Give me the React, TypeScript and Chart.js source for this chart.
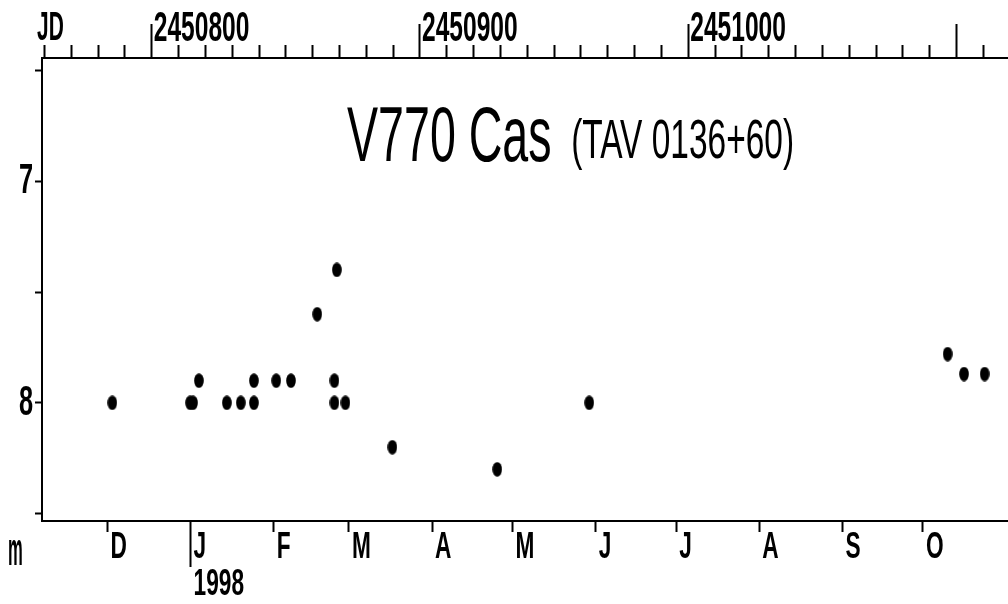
import React, { useEffect, useRef } from 'react';
import { Chart, LinearScale, registerables } from 'chart.js';

// ---- data ----
const jdValues = [
  2450785.3, 2450814.3, 2450815.4, 2450817.6, 2450828.0, 2450833.2, 2450838.1,
  2450838.1, 2450846.4, 2450851.9, 2450861.7, 2450869.0, 2450868.1, 2450868.1,
  2450872.2, 2450889.7, 2450928.8, 2450963.1, 2451096.7, 2451102.8, 2451110.5,
];
const magValues = [
  8.0, 8.0, 8.0, 7.9, 8.0, 8.0, 8.0,
  7.9, 7.9, 7.9, 7.6, 7.4, 7.9, 8.0,
  8.0, 8.2, 8.3, 8.0, 7.78, 7.87, 7.87,
];

// month starts (JD at 0h UT) for the bottom axis
const monthStartJD = [
  2450783.5, 2450814.5, 2450845.5, 2450873.5, 2450904.5, 2450934.5,
  2450965.5, 2450995.5, 2451026.5, 2451057.5, 2451087.5,
];
const monthLabels = ['D', 'J', 'F', 'M', 'A', 'M', 'J', 'J', 'A', 'S', 'O'];
const yearLabel = '1998';
const yearIndex = 1;

// top JD axis
const jdMin = 2450759.1;
const jdMax = 2451119.2;
const jdFirstMinor = 2450760;
const jdMinorStep = 10;
const jdMajorTicks = [2450800, 2450900, 2451000, 2451100];
const jdLabelledTicks = [2450800, 2450900, 2451000];

// magnitude axis
const magMin = 6.444;
const magMax = 8.533;
const magTicks = [6.5, 7, 7.5, 8, 8.5];
const magLabelledTicks = [7, 8];

const titleMain = 'V770 Cas';
const titleSub = '(TAV 0136+60)';
const jdAxisLabel = 'JD';
const magAxisLabel = 'm';

// horizontal compression of tick label glyphs, per axis (narrow bitmap-like font)
const labelStretch: Record<string, number> = { xTop: 0.585, x: 0.63, y: 0.59 };

const tickFamily = "'Liberation Sans', Arimo, sans-serif";

// A linear scale whose tick labels are drawn horizontally condensed.
class NarrowLinearScale extends (LinearScale as any) {
  static id = 'narrowLinear';
  drawLabels(chartArea: any) {
    const self: any = this;
    const optionTicks = self.options.ticks;
    if (!optionTicks.display) return;
    const ctx: CanvasRenderingContext2D = self.ctx;
    const sx = labelStretch[self.id] ?? 1;
    const items = self.getLabelItems(chartArea);
    for (const item of items) {
      const o = item.options;
      const lines = Array.isArray(item.label) ? item.label : [item.label];
      ctx.save();
      ctx.translate(o.translation[0], o.translation[1]);
      if (o.rotation) ctx.rotate(o.rotation);
      ctx.scale(sx, 1);
      ctx.font = item.font.string;
      ctx.fillStyle = o.color;
      ctx.textAlign = o.textAlign;
      ctx.textBaseline = o.textBaseline;
      let y = item.textOffset;
      for (const line of lines) {
        ctx.fillText(String(line), 0, y);
        y += item.font.lineHeight;
      }
      ctx.restore();
    }
  }
}

Chart.register(...registerables, NarrowLinearScale as any);

function fitText(
  ctx: CanvasRenderingContext2D,
  text: string,
  font: string,
  x0: number,
  y0: number,
  x1: number,
  y1: number
) {
  ctx.save();
  ctx.font = font;
  ctx.textAlign = 'left';
  ctx.textBaseline = 'alphabetic';
  ctx.fillStyle = '#000';
  const m = ctx.measureText(text);
  const w = m.actualBoundingBoxLeft + m.actualBoundingBoxRight;
  const h = m.actualBoundingBoxAscent + m.actualBoundingBoxDescent;
  ctx.translate(x0, y0);
  ctx.scale((x1 - x0) / w, (y1 - y0) / h);
  ctx.fillText(text, m.actualBoundingBoxLeft, m.actualBoundingBoxAscent);
  ctx.restore();
}

const textPlugin = {
  id: 'lightCurveTexts',
  afterDraw(chart: any) {
    const ctx = chart.ctx as CanvasRenderingContext2D;
    fitText(ctx, titleMain, "normal 75px 'Liberation Sans', sans-serif", 347, 107, 550, 162);
    fitText(ctx, titleSub, "normal 55px 'Liberation Sans', sans-serif", 573, 118, 792, 170);
    fitText(ctx, jdAxisLabel, "bold 32px 'Liberation Sans', sans-serif", 37, 12, 63, 40);
    fitText(ctx, magAxisLabel, "bold 32px 'Liberation Sans', sans-serif", 9, 540, 22, 565);
  },
};

function makeDot(): HTMLCanvasElement {
  const c = document.createElement('canvas');
  c.width = 10;
  c.height = 15;
  const g = c.getContext('2d')!;
  g.fillStyle = '#000';
  g.beginPath();
  g.ellipse(5, 7.5, 4.8, 7.3, 0, 0, Math.PI * 2);
  g.fill();
  return c;
}

export default function App() {
  const ref = useRef<HTMLCanvasElement>(null);

  useEffect(() => {
    document.body.style.margin = '0';
    const canvas = ref.current;
    if (!canvas) return;
    const dot = makeDot();
    const points = jdValues.map((jd, i) => ({ x: jd, y: magValues[i] }));

    const chart = new Chart(canvas, {
      type: 'scatter',
      data: {
        datasets: [
          {
            data: points,
            xAxisID: 'x',
            yAxisID: 'y',
            pointStyle: dot as any,
            pointRadius: 5,
            showLine: false,
            backgroundColor: '#000',
            borderColor: '#000',
          },
        ],
      },
      options: {
        animation: false,
        responsive: false,
        layout: { padding: 0, autoPadding: false },
        plugins: {
          legend: { display: false },
          tooltip: { enabled: false },
          title: { display: false },
        },
        events: [],
        scales: {
          xTop: {
            type: 'narrowLinear' as any,
            position: 'top',
            min: jdMin,
            max: jdMax,
            afterBuildTicks: (s: any) => {
              const t: { value: number }[] = [];
              for (let v = jdFirstMinor; v <= jdMax; v += jdMinorStep) t.push({ value: v });
              s.ticks = t;
            },
            afterFit: (s: any) => {
              s.height = 58;
            },
            grid: {
              drawOnChartArea: false,
              drawTicks: true,
              tickLength: 34,
              tickWidth: 2,
              tickColor: '#000',
              tickBorderDash: (c: any) =>
                c.tick && jdMajorTicks.includes(c.tick.value) ? [] : [0, 21, 13, 300],
            } as any,
            border: { display: true, color: '#000', width: 2 },
            ticks: {
              autoSkip: false,
              maxRotation: 0,
              minRotation: 0,
              align: 'start',
              labelOffset: 2,
              padding: -21.5,
              color: '#000',
              font: { family: tickFamily, size: 42, weight: 'bold', lineHeight: '32px' },
              callback: (v: any) => (jdLabelledTicks.includes(Number(v)) ? String(v) : ''),
            },
          } as any,
          x: {
            type: 'narrowLinear' as any,
            position: 'bottom',
            min: jdMin,
            max: jdMax,
            afterBuildTicks: (s: any) => {
              s.ticks = monthStartJD.map((v) => ({ value: v }));
            },
            afterFit: (s: any) => {
              s.height = 83;
            },
            grid: {
              drawOnChartArea: false,
              drawTicks: true,
              tickLength: 46,
              tickWidth: 2,
              tickColor: '#000',
              tickBorderDash: (c: any) => (c.index === yearIndex ? [] : [10, 300]),
            } as any,
            border: { display: true, color: '#000', width: 2 },
            ticks: {
              autoSkip: false,
              maxRotation: 0,
              minRotation: 0,
              align: 'start',
              labelOffset: 3,
              padding: -37.5,
              color: '#000',
              font: { family: tickFamily, size: 36, weight: 'bold', lineHeight: '37px' },
              callback: (_v: any, i: number) =>
                i === yearIndex ? [monthLabels[i], yearLabel] : monthLabels[i],
            },
          } as any,
          y: {
            type: 'narrowLinear' as any,
            position: 'left',
            reverse: true,
            min: magMin,
            max: magMax,
            afterBuildTicks: (s: any) => {
              s.ticks = magTicks.map((v) => ({ value: v }));
            },
            afterFit: (s: any) => {
              s.width = 42;
            },
            grid: {
              drawOnChartArea: false,
              drawTicks: true,
              tickLength: 7,
              tickWidth: 2,
              tickColor: '#000',
            },
            border: { display: true, color: '#000', width: 2 },
            ticks: {
              autoSkip: false,
              padding: 2,
              color: '#000',
              font: { family: tickFamily, size: 43, weight: 'bold', lineHeight: '32px' },
              callback: (v: any) => (magLabelledTicks.includes(Number(v)) ? String(v) : ''),
            },
          } as any,
        },
      },
      plugins: [textPlugin],
    });

    return () => chart.destroy();
  }, []);

  return (
    <div style={{ width: 1008, height: 604 }}>
      <canvas ref={ref} width={1008} height={604} style={{ display: 'block', width: 1008, height: 604 }} />
    </div>
  );
}
